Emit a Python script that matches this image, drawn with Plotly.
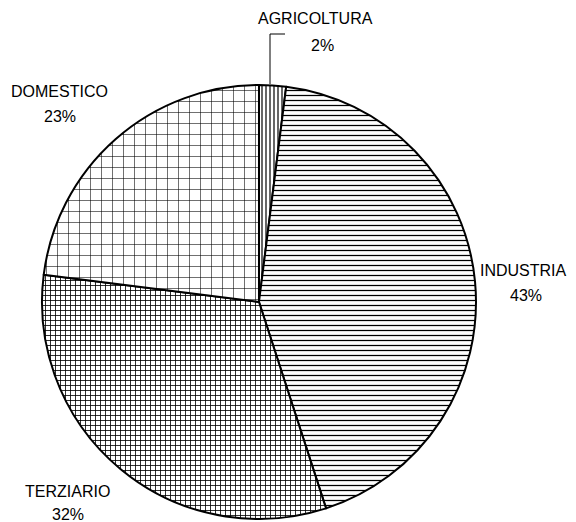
import plotly.graph_objects as go

# slices, clockwise from 12 o'clock
sectors = ['AGRICOLTURA', 'INDUSTRIA', 'TERZIARIO', 'DOMESTICO']
shares = [2, 43, 32, 23]

# hatch style per slice (like the old b/w spreadsheet chart)
hatch_shape = ['|', '-', '+', '+']
hatch_size = [4, 5, 5, 11]
hatch_solid = [0.3, 0.25, 0.3, 0.1]

W, H = 576, 522
OFF = 8  # body margin of the html page


def to_paper(px, py):
    ''' page pixel -> paper coords '''
    return (px - OFF) / W, 1 - (py - OFF) / H


fig = go.Figure()
fig.add_trace(go.Pie(
    labels=sectors,
    values=shares,
    sort=False,
    direction='clockwise',
    rotation=0,
    textinfo='none',
    hoverinfo='label+percent',
    marker=dict(
        colors=['white'] * 4,
        line=dict(color='black', width=2),
        pattern=dict(shape=hatch_shape, size=hatch_size, solidity=hatch_solid,
                     fgcolor='black', bgcolor='white', fillmode='replace'),
    ),
    domain=dict(x=[0.059, 0.8125], y=[0.0211, 0.8525]),
    showlegend=False,
))

# label placement (page px): name line and percent line
name_pos = [(315, 19), (523, 270), (67, 491), (59, 91)]
pct_pos = [(322, 45), (526, 295), (68, 514), (60, 117)]
for name, val, npos, ppos in zip(sectors, shares, name_pos, pct_pos):
    for txt, pos in ((name, npos), (f'{val}%', ppos)):
        x, y = to_paper(*pos)
        fig.add_annotation(
            x=x, y=y, xref='paper', yref='paper',
            xanchor='center', yanchor='middle',
            text=txt, showarrow=False,
            font=dict(family='Liberation Sans, Arial', size=16, color='black'),
        )

# leader line for the small slice
x0, y0 = to_paper(270, 84)
x1, y1 = to_paper(270, 34)
x2, _ = to_paper(285, 34)
fig.add_shape(type='path', xref='paper', yref='paper',
              path=f'M {x0} {y0} L {x1} {y1} L {x2} {y1}',
              line=dict(color='black', width=1))

fig.update_layout(
    width=W, height=H,
    margin=dict(l=0, r=0, t=0, b=0),
    paper_bgcolor='white',
    plot_bgcolor='white',
)

fig.write_html("out.html")
